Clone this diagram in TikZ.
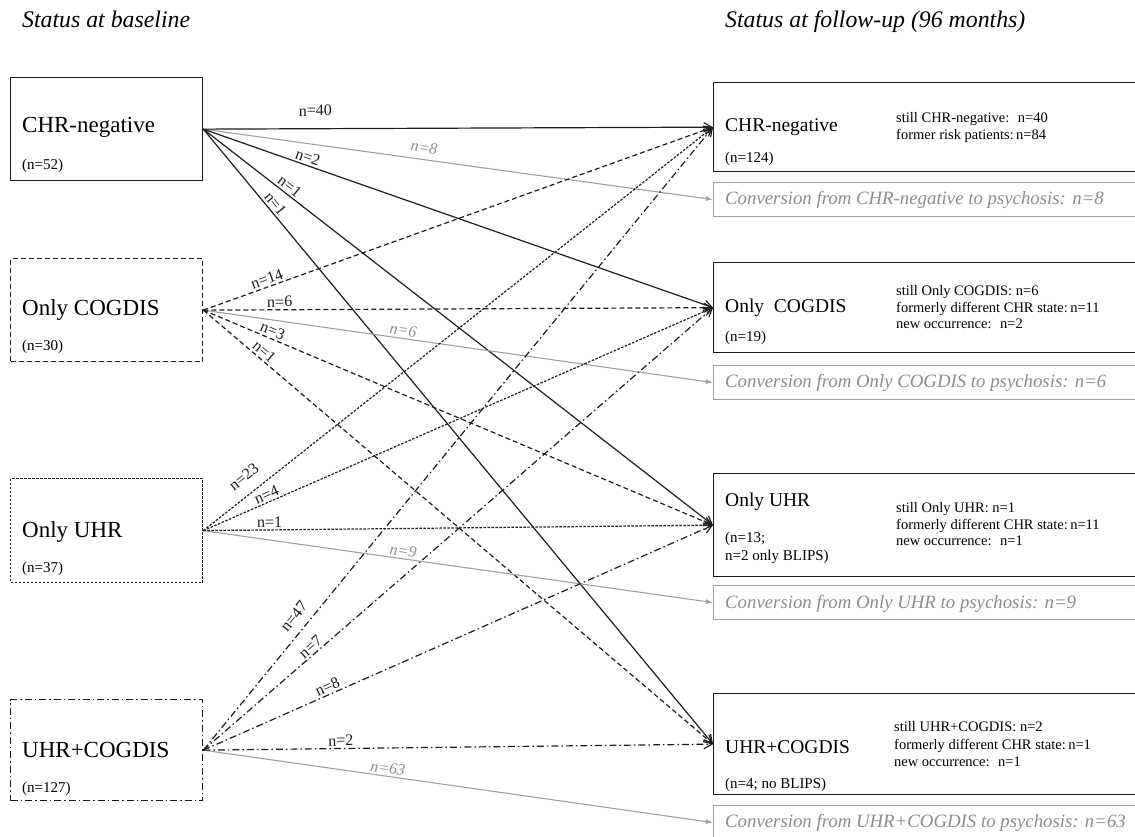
\documentclass[tikz,border=0pt]{standalone}
\usepackage{fontspec}
\setmainfont{Liberation Serif}
\usetikzlibrary{arrows.meta}
\definecolor{ink}{HTML}{1E1E1E}
\definecolor{conv}{HTML}{A0A0A0}
\definecolor{convtext}{HTML}{8C8C8C}
\tikzset{
  frame/.style={line width=1.3pt, inner sep=0pt, anchor=north west},
  lbox/.style={frame, draw=ink, minimum width=192pt},
  rbox/.style={frame, draw=ink, minimum width=440pt},
  cbox/.style={frame, draw=conv, line width=1.1pt, minimum width=440pt, minimum height=34pt},
  solidl/.style={},
  dashl/.style={dash pattern=on 5pt off 3pt},
  dotl/.style={dash pattern=on 2.5pt off 1.5pt},
  ddl/.style={dash pattern=on 7pt off 3pt on 1.5pt off 3pt},
  txt/.style={anchor=base west, inner sep=0pt},
  title/.style={txt, font=\fontsize{23.8}{27}\selectfont\itshape},
  big/.style={txt, font=\fontsize{23}{26}\selectfont},
  rbig/.style={txt, font=\fontsize{19.5}{22}\selectfont},
  small/.style={txt, font=\fontsize{15}{17}\selectfont},
  side/.style={txt, font=\fontsize{14.5}{17}\selectfont},
  convt/.style={txt, text=convtext, font=\fontsize{18.8}{22}\selectfont\itshape},
  conn/.style={draw=ink, line width=1.2pt, -{Straight Barb[length=8pt,width=9pt]}},
  gconn/.style={draw=conv, line width=1.1pt, -{Latex[length=7pt,width=5pt]}},
  lab/.style={sloped, above, inner sep=2pt, font=\fontsize{16}{18}\selectfont, text=ink},
  glab/.style={sloped, above, inner sep=2pt, font=\fontsize{16}{18}\selectfont\itshape, text=convtext},
}
\begin{document}
\begin{tikzpicture}[x=1pt, y=-1pt]
\clip (0,0) rectangle (1135,837);
\fill[white] (0,0) rectangle (1135,837);

% titles
\node[title] (t1) at (22,28) {Status at baseline};
\node[title] (t2) at (725,28) {Status at follow-up (96 months)};

% left boxes
\node[lbox, solidl, minimum height=103pt] (l1) at (10,77) {};
\node[lbox, dashl, minimum height=103pt] (l2) at (10,258) {};
\node[lbox, dotl, minimum height=104pt] (l3) at (10,478) {};
\node[lbox, ddl, minimum height=101pt] (l4) at (10,699) {};

\node[big] (l1a) at (22,133) {CHR-negative};
\node[small] (l1b) at (22,170) {(n=52)};
\node[big] (l2a) at (22,315) {Only COGDIS};
\node[small] (l2b) at (22,350) {(n=30)};
\node[big] (l3a) at (22,537) {Only UHR};
\node[small] (l3b) at (22,572) {(n=37)};
\node[big] (l4a) at (22,757) {UHR+COGDIS};
\node[small] (l4b) at (22,792) {(n=127)};

% right boxes
\node[rbox, minimum height=89pt] (r1) at (713,82) {};
\node[cbox] (c1) at (713,182) {};
\node[rbox, minimum height=90pt] (r2) at (713,262) {};
\node[cbox] (c2) at (713,365) {};
\node[rbox, minimum height=103pt] (r3) at (713,473) {};
\node[cbox] (c3) at (713,585) {};
\node[rbox, minimum height=101pt] (r4) at (713,693) {};
\node[cbox] (c4) at (713,805) {};

\node[rbig] (r1a) at (725,132) {CHR-negative};
\node[small] (r1b) at (725,163) {(n=124)};
\node[side] (r1c) at (896,123) {still CHR-negative:~ n=40};
\node[side] (r1d) at (896,140) {former risk patients:\,n=84};

\node[rbig] (r2a) at (725,312) {Only~ COGDIS};
\node[small] (r2b) at (725,341) {(n=19)};
\node[side] (r2c) at (896,295) {still Only COGDIS: n=6};
\node[side] (r2d) at (896,312) {formerly different CHR state:\,n=11};
\node[side] (r2e) at (896,328) {new occurrence:~ n=2};

\node[rbig] (r3a) at (725,506) {Only UHR};
\node[small] (r3b) at (725,542) {(n=13;};
\node[small] (r3c) at (725,560) {n=2 only BLIPS)};
\node[side] (r3d) at (896,512) {still Only UHR: n=1};
\node[side] (r3e) at (896,529) {formerly different CHR state:\,n=11};
\node[side] (r3f) at (896,545) {new occurrence:~ n=1};

\node[rbig] (r4a) at (725,753) {UHR+COGDIS};
\node[small] (r4b) at (725,788) {(n=4; no BLIPS)};
\node[side] (r4c) at (894,731) {still UHR+COGDIS: n=2};
\node[side] (r4d) at (894,749) {formerly different CHR state:\,n=1};
\node[side] (r4e) at (894,766) {new occurrence:~ n=1};

\node[convt] (c1t) at (725,205) {Conversion from CHR-negative to psychosis: n=8};
\node[convt] (c2t) at (725,387) {Conversion from Only COGDIS to psychosis: n=6};
\node[convt] (c3t) at (725,608) {Conversion from Only UHR to psychosis: n=9};
\node[convt] (c4t) at (725,827) {Conversion from UHR+COGDIS to psychosis: n=63};

% connectors from CHR-negative
\draw[gconn] (l1.east) -- node[glab, pos=.43, above=4pt]{n=8} (c1.west);
\draw[conn, solidl] (l1.east) -- node[lab, pos=.22, above=10pt]{n=40} (r1.west);
\draw[conn, solidl] (l1.east) -- node[lab, pos=.2]{n=2} (r2.west);
\draw[conn, solidl] (l1.east) -- node[lab, pos=.16]{n=1} (r3.west);
\draw[conn, solidl] (l1.east) -- node[lab, pos=.13]{n=1} (r4.west);

% from Only COGDIS
\draw[gconn] (l2.east) -- node[glab, pos=.39]{n=6} (c2.west);
\draw[conn, dashl] (l2.east) -- node[lab, pos=.13]{n=14} (r1.west);
\draw[conn, dashl] (l2.east) -- node[lab, pos=.15]{n=6} (r2.west);
\draw[conn, dashl] (l2.east) -- node[lab, pos=.13]{n=3} (r3.west);
\draw[conn, dashl] (l2.east) -- node[lab, pos=.11]{n=1} (r4.west);

% from Only UHR
\draw[gconn] (l3.east) -- node[glab, pos=.39]{n=9} (c3.west);
\draw[conn, dotl] (l3.east) -- node[lab, pos=.1, above=9pt]{n=23} (r1.west);
\draw[conn, dotl] (l3.east) -- node[lab, pos=.13]{n=4} (r2.west);
\draw[conn, dotl] (l3.east) -- node[lab, pos=.13]{n=1} (r3.west);

% from UHR+COGDIS
\draw[gconn] (l4.east) -- node[glab, pos=.36]{n=63} (c4.west);
\draw[conn, ddl] (l4.east) -- node[lab, pos=.2, above=7pt]{n=47} (r1.west);
\draw[conn, ddl] (l4.east) -- node[lab, pos=.22]{n=7} (r2.west);
\draw[conn, ddl] (l4.east) -- node[lab, pos=.25]{n=8} (r3.west);
\draw[conn, ddl] (l4.east) -- node[lab, pos=.27]{n=2} (r4.west);
\end{tikzpicture}
\end{document}
